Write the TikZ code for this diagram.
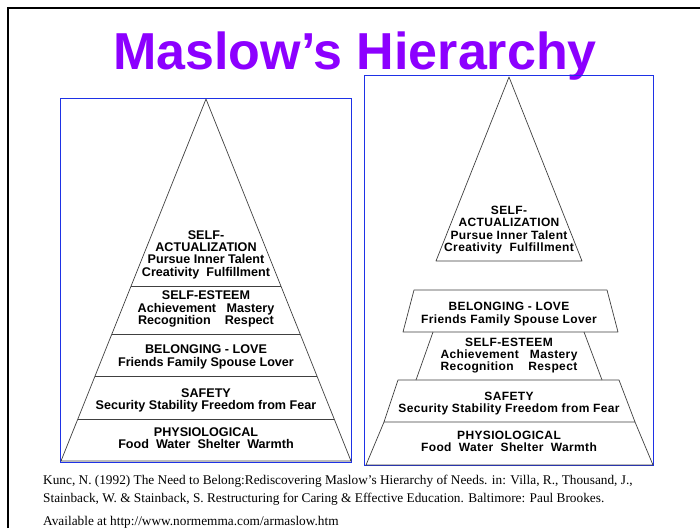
\documentclass[tikz,border=0pt]{standalone}
\usepackage{fontspec}
\setmainfont{Liberation Serif}
\newfontfamily\pyrfont{Liberation Sans}
\newfontfamily\widefont[LetterSpace=3]{Liberation Sans}
\definecolor{titlepurple}{RGB}{140,0,255}
\definecolor{boxblue}{RGB}{30,50,230}
\tikzset{
  pyr/.style={draw=black!75, line width=0.7pt, line join=round},
  panel/.style={draw=boxblue, line width=1pt},
  lvl/.style={align=center, inner sep=0pt, font=\pyrfont\bfseries\fontsize{12.6}{12.3}\selectfont},
  lvlwide/.style={lvl, font=\widefont\bfseries\fontsize{12}{12.3}\selectfont},
  cite/.style={anchor=base west, inner sep=0pt, font=\fontsize{13.3}{15}\selectfont}
}
\begin{document}
\begin{tikzpicture}[x = 1pt, y = -1pt]
	\useasboundingbox[fill=white] (0,0) rectangle (700,528);
	\draw[line width=2.5pt] (8,528) -- (8,8) -- (700,8); %slide frame
	\node[anchor=base, inner sep=0pt, text=titlepurple, font=\pyrfont\bfseries\fontsize{52}{56}\selectfont] (title) at (355,69) {Maslow’s Hierarchy};

	%left pyramid
	\draw[panel] (60,98) rectangle (351,462);
	\draw[pyr] (206,99) -- (351,461) -- (61,461) -- cycle;
	\draw[pyr] (131.1,286) -- (280.9,286);
	\draw[pyr] (111.9,334) -- (300.1,334);
	\draw[pyr] (95,376) -- (317,376);
	\draw[pyr] (77.8,419) -- (334.2,419);
	\node[lvl] (lsa) at (206,254.5) {SELF-\\ACTUALIZATION\\Pursue Inner Talent\\Creativity\ \ Fulfillment};
	\node[lvl] (lse) at (206,309) {SELF-ESTEEM\\Achievement\ \ \ Mastery\\Recognition\ \ \ \ Respect};
	\node[lvl] (lbl) at (206,357) {BELONGING - LOVE\\Friends Family Spouse Lover};
	\node[lvl] (lsf) at (206,400.5) {SAFETY\\Security Stability Freedom from Fear};
	\node[lvl] (lph) at (206,438) {PHYSIOLOGICAL\\Food\ \ Water\ \ Shelter\ \ Warmth};

	%right pyramid
	\draw[panel] (364,75) rectangle (653,465);
	\draw[pyr] (509,77) -- (582,261) -- (436,261) -- cycle; %self-actualization
	\draw[pyr] (414,290) -- (607,290) -- (618,332) -- (403,332) -- cycle; %belonging
	\draw[pyr] (433,332) -- (416,380);
	\draw[pyr] (584,332) -- (602,380);
	\draw[pyr] (398,380) -- (619,380) -- (635,422) -- (384,422) -- cycle; %safety
	\draw[pyr] (384,422) -- (366,465) -- (653,465) -- (635,422);
	\node[lvlwide] (rsa) at (509,230) {SELF-\\ACTUALIZATION\\Pursue Inner Talent\\Creativity\ \ Fulfillment};
	\node[lvlwide] (rbl) at (509,314) {BELONGING - LOVE\\Friends Family Spouse Lover};
	\node[lvlwide] (rse) at (509,355.5) {SELF-ESTEEM\\Achievement\ \ \ Mastery\\Recognition\ \ \ \ Respect};
	\node[lvlwide] (rsf) at (509,403.5) {SAFETY\\Security Stability Freedom from Fear};
	\node[lvlwide] (rph) at (509,441.5) {PHYSIOLOGICAL\\Food\ \ Water\ \ Shelter\ \ Warmth};

	%reference
	\node[cite] (cite1) at (43,484) {Kunc, N. (1992) The Need to Belong:Rediscovering Maslow's Hierarchy of Needs. in: Villa, R., Thousand, J.,};
	\node[cite] (cite2) at (43,502) {Stainback, W. \& Stainback, S. Restructuring for Caring \& Effective Education. Baltimore: Paul Brookes.};
	\node[cite] (cite3) at (43,525) {Available at http://www.normemma.com/armaslow.htm};
\end{tikzpicture}
\end{document}
